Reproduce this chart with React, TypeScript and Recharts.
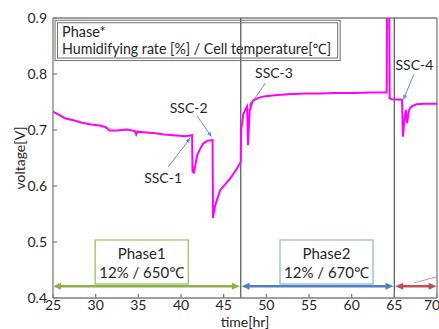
import React from 'react';
import { LineChart, Line, XAxis, YAxis, ReferenceLine, ReferenceArea, ReferenceDot } from 'recharts';

// time [hr]
const hours = [
  25.0, 25.7, 26.4, 27.5, 28.4, 29.5, 30.5, 31.2, 31.6, 32.5, 33.7, 34.6, 34.75, 34.9, 35.6, 37.0, 38.0, 39.5, 40.5, 41.1, 41.3,
  41.35, 41.5, 41.9, 42.3, 42.6, 43.1, 43.7, 43.75, 44.0, 44.6, 45.3, 45.8, 46.5, 47.0,
  47.05, 47.3, 47.6, 47.75, 47.85, 48.05, 48.4, 49.0, 49.7, 51.0, 52.5, 54.5, 56.4, 58.0, 60.3, 62.0, 64.1,
  64.15, 64.4, 64.45, 64.7, 65.9, 66.0, 66.2, 66.35, 66.5, 66.7, 67.0, 67.6, 68.5, 70.0,
];
// voltage [V]
const volts = [
  0.733, 0.727, 0.721, 0.717, 0.713, 0.710, 0.708, 0.705, 0.699, 0.699, 0.701, 0.698, 0.692, 0.697, 0.696, 0.694, 0.692, 0.690, 0.689, 0.690, 0.691,
  0.626, 0.624, 0.655, 0.668, 0.676, 0.681, 0.682, 0.543, 0.565, 0.593, 0.605, 0.614, 0.630, 0.643,
  0.700, 0.728, 0.738, 0.742, 0.673, 0.735, 0.752, 0.757, 0.760, 0.762, 0.764, 0.765, 0.765, 0.766, 0.766, 0.767, 0.767,
  0.960, 0.960, 0.757, 0.755, 0.754, 0.688, 0.720, 0.736, 0.712, 0.735, 0.742, 0.746, 0.747, 0.747,
];

const xTicks = [25, 30, 35, 40, 45, 50, 55, 60, 65, 70];
const yTicks = [0.4, 0.5, 0.6, 0.7, 0.8, 0.9];

// phase boundaries [hr]
const phaseBounds = [25, 47, 65, 70];
const phaseNames = ['Phase1', 'Phase2'];
const phaseConditions = ['12% / 650℃', '12% / 670℃'];
const phaseBoxX1 = [29.94, 51.6];
const phaseBoxX2 = [40.85, 62.5];
const phaseArrowV = 0.421;

// step-stress annotations
const sscLabels = ['SSC-1', 'SSC-2', 'SSC-3', 'SSC-4'];
const sscTextX = [37.9, 40.9, 50.9, 67.35];
const sscTextV = [0.614, 0.739, 0.802, 0.816];
const sscFromX = [38.5, 41.9, 49.9, 67.3];
const sscFromV = [0.634, 0.725, 0.784, 0.800];
const sscToX = [41.1, 43.6, 47.95, 66.05];
const sscToV = [0.686, 0.6875, 0.741, 0.7536];

const data = hours.map((t, i) => ({ t, v: volts[i] }));

const FONT = 'Lato, "Noto Sans", sans-serif';
const TEXT = '#262626';
const AXIS = '#7f7f7f';
const PHASE_COLORS = ['#8db04a', '#4f81bd', '#c0504d'];
const PHASE_BOX_COLORS = ['#9bbb59', '#8eb0d9'];

const arrowShape = (color: string, w: number, head: number, headW: number, startHead: boolean, endHead: boolean) =>
  (p: any) => {
    const { x1, y1, x2, y2 } = p;
    const ang = Math.atan2(y2 - y1, x2 - x1);
    const ux = Math.cos(ang), uy = Math.sin(ang);
    const px = -uy, py = ux;
    const headPts = (hx: number, hy: number, dir: number) => {
      const bx = hx - dir * ux * head, by = hy - dir * uy * head;
      return `${hx},${hy} ${bx + px * headW / 2},${by + py * headW / 2} ${bx - px * headW / 2},${by - py * headW / 2}`;
    };
    const sx = startHead ? x1 + ux * head * 0.8 : x1;
    const sy = startHead ? y1 + uy * head * 0.8 : y1;
    const ex = endHead ? x2 - ux * head * 0.8 : x2;
    const ey = endHead ? y2 - uy * head * 0.8 : y2;
    return (
      <g>
        <line x1={sx} y1={sy} x2={ex} y2={ey} stroke={color} strokeWidth={w} />
        {startHead && <polygon points={headPts(x1, y1, -1)} fill={color} />}
        {endHead && <polygon points={headPts(x2, y2, 1)} fill={color} />}
      </g>
    );
  };

const legendShape = (p: any) => {
  const { x, y, width, height } = p;
  return (
    <g>
      <rect x={x} y={y} width={width} height={height} fill="#fff" stroke="#6f6f6f" strokeWidth={1} />
      <rect x={x + 2.5} y={y + 2.5} width={width - 5} height={height - 5} fill="none" stroke="#6f6f6f" strokeWidth={1} />
      <text x={x + 7} y={y + 17} fontFamily={FONT} fontSize={14.5} fill={TEXT}>Phase*</text>
      <text x={x + 7} y={y + 33.5} fontFamily={FONT} fontSize={14.5} fill={TEXT} textLength={269} lengthAdjust="spacingAndGlyphs">
        Humidifying rate [%] / Cell temperature[℃]
      </text>
    </g>
  );
};

const phaseBoxShape = (i: number) => (p: any) => {
  const { x, y, width, height } = p;
  return (
    <g>
      <rect x={x} y={y} width={width} height={height} fill="#fff" stroke={PHASE_BOX_COLORS[i]} strokeWidth={1.2} />
      <text x={x + width / 2} y={y + 13} textAnchor="middle" dominantBaseline="central" fontFamily={FONT} fontSize={15} fill={TEXT}>
        {phaseNames[i]}
      </text>
      <text x={x + width / 2} y={y + 32.5} textAnchor="middle" dominantBaseline="central" fontFamily={FONT} fontSize={15} fill={TEXT}>
        {phaseConditions[i]}
      </text>
    </g>
  );
};

export default function App() {
  return (
    <div style={{ position: 'absolute', left: 0, top: 0, background: '#fff' }}>
      <LineChart width={439} height={329} data={data} margin={{ top: 18, right: 2, bottom: 0, left: 0 }}>
        <XAxis
          dataKey="t"
          type="number"
          domain={[25, 70]}
          ticks={xTicks}
          allowDataOverflow
          height={31}
          stroke={AXIS}
          strokeWidth={1.3}
          tickSize={-4}
          tickMargin={6}
          tick={{ fill: TEXT, fontSize: 14, fontFamily: FONT }}
          label={{ value: 'time[hr]', position: 'insideBottom', offset: 2, fill: TEXT, fontSize: 14, fontFamily: FONT }}
        />
        <YAxis
          type="number"
          domain={[0.4, 0.9]}
          ticks={yTicks}
          allowDataOverflow
          width={53}
          stroke={AXIS}
          strokeWidth={1.3}
          tickSize={-4}
          tickMargin={10}
          tickFormatter={(v: number) => v.toFixed(1)}
          tick={{ fill: TEXT, fontSize: 14, fontFamily: FONT }}
          label={{ value: 'voltage[V]', angle: -90, position: 'center', dx: -6, fill: TEXT, fontSize: 14, fontFamily: FONT }}
        />
        <ReferenceLine y={0.9} stroke={AXIS} strokeWidth={1.3} ifOverflow="visible" />
        <ReferenceLine x={70} stroke={AXIS} strokeWidth={1.3} ifOverflow="visible" />
        <ReferenceLine x={phaseBounds[1]} stroke="#5f5f5f" strokeWidth={1.3} />
        <ReferenceLine x={phaseBounds[2]} stroke="#5f5f5f" strokeWidth={1.3} />

        <ReferenceArea x1={25.24} x2={58.65} y1={0.824} y2={0.896} ifOverflow="visible" shape={legendShape} />
        {phaseNames.map((n, i) => (
          <ReferenceArea key={n} x1={phaseBoxX1[i]} x2={phaseBoxX2[i]} y1={0.425} y2={0.5036} ifOverflow="visible" shape={phaseBoxShape(i)} />
        ))}
        {[0, 1, 2].map((i) => (
          <ReferenceLine
            key={'pa' + i}
            segment={[
              { x: phaseBounds[i] + (i === 0 ? 0 : 0.1), y: phaseArrowV },
              { x: phaseBounds[i + 1] - (i === 2 ? 0.05 : 0.1), y: phaseArrowV },
            ]}
            ifOverflow="visible"
            shape={arrowShape(PHASE_COLORS[i], 2.5, 8, 7, true, true)}
          />
        ))}
        <ReferenceLine
          segment={[{ x: 67.3, y: 0.427 }, { x: 70, y: 0.438 }]}
          ifOverflow="visible"
          shape={arrowShape('#e08a88', 1, 0, 0, false, false)}
        />
        {sscLabels.map((s, i) => (
          <ReferenceLine
            key={'sa' + s}
            segment={[{ x: sscFromX[i], y: sscFromV[i] }, { x: sscToX[i], y: sscToV[i] }]}
            ifOverflow="visible"
            shape={arrowShape('#5b8fd0', 1, 5, 4, false, true)}
          />
        ))}
        {sscLabels.map((s, i) => (
          <ReferenceDot
            key={'st' + s}
            x={sscTextX[i]}
            y={sscTextV[i]}
            r={0}
            ifOverflow="visible"
            fill="none"
            stroke="none"
            label={{ value: s, position: 'center', fill: TEXT, fontSize: 14, fontFamily: FONT }}
          />
        ))}
        <Line
          type="linear"
          dataKey="v"
          stroke="#ff00ff"
          strokeWidth={2}
          dot={false}
          isAnimationActive={false}
        />
      </LineChart>
    </div>
  );
}
